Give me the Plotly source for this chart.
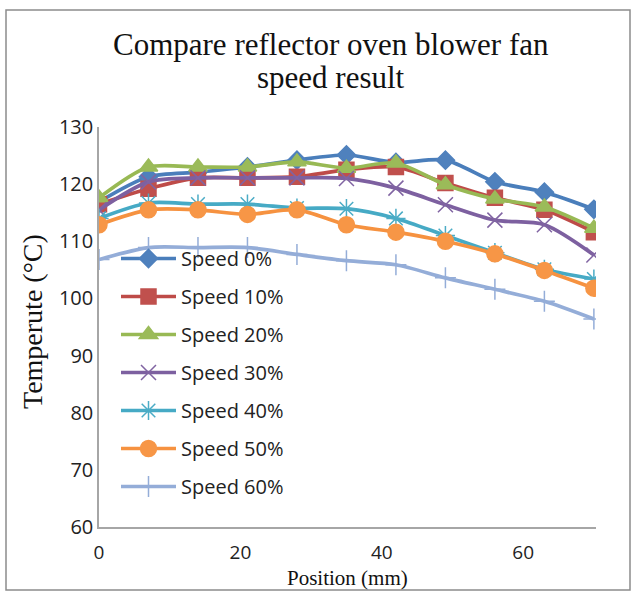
import plotly.graph_objects as go

positions = [0, 7, 14, 21, 28, 35, 42, 49, 56, 63, 70]
speed_0 = [116.9, 121.3, 122.1, 123.0, 124.2, 125.1, 123.8, 124.2, 120.4, 118.6, 115.6]
speed_10 = [116.5, 119.2, 121.1, 121.1, 121.3, 122.5, 123.0, 120.2, 117.6, 115.5, 111.6]
speed_20 = [117.6, 123.0, 123.0, 123.0, 123.9, 122.8, 123.7, 119.9, 117.4, 116.0, 112.3]
speed_30 = [115.5, 120.4, 121.1, 121.1, 121.1, 121.0, 119.3, 116.4, 113.7, 112.9, 107.6]
speed_40 = [114.0, 116.7, 116.5, 116.5, 115.8, 115.7, 114.0, 111.0, 108.0, 105.1, 103.4]
speed_50 = [112.9, 115.5, 115.5, 114.7, 115.5, 112.9, 111.6, 110.0, 107.8, 104.9, 101.8]
speed_60 = [106.8, 108.9, 108.9, 108.9, 107.7, 106.6, 105.9, 103.6, 101.6, 99.5, 96.4]

series_names = ["Speed 0%", "Speed 10%", "Speed 20%", "Speed 30%", "Speed 40%", "Speed 50%", "Speed 60%"]
series_values = [speed_0, speed_10, speed_20, speed_30, speed_40, speed_50, speed_60]
y_ticks = [60, 70, 80, 90, 100, 110, 120, 130]
x_ticks = [0, 20, 40, 60]

styles = [
    dict(line="#4A7EBB", mcol="#4F81BD", symbol="diamond", size=14),
    dict(line="#BE4B48", mcol="#C0504D", symbol="square", size=15),
    dict(line="#98B954", mcol="#9BBB59", symbol="triangle-up", size=16),
    dict(line="#7D60A0", mcol="#8064A2", symbol="x-thin-open", size=15),
    dict(line="#46AAC5", mcol="#4BACC6", symbol="asterisk-open", size=16),
    dict(line="#F69240", mcol="#F79646", symbol="circle", size=16),
    dict(line="#94ADD8", mcol="#94ADD8", symbol="cross-thin-open", size=15),
]

fig = go.Figure()
for i, (name, vals, st) in enumerate(zip(series_names, series_values, styles)):
    fig.add_trace(go.Scatter(
        x=positions, y=vals, name=name, mode="lines+markers",
        legendgroup=f"g{i}",
        line=dict(color=st["line"], width=3.7, shape="spline", smoothing=0.8),
        marker=dict(symbol=st["symbol"], size=st["size"], color=st["mcol"],
                    line=dict(color=st["mcol"], width=1.5)),
    ))

L, R, T, B = 99, 37, 127, 66
W, H = 633, 593
pw, ph = W - L - R, H - T - B

def px2x(px):
    return (px - L) / pw

def py2y(py):
    return (H - B - py) / ph

serif = "Liberation Serif, Times New Roman, serif"
sans = "Open Sans, Noto Sans, sans-serif"

fig.update_layout(
    width=W, height=H,
    margin=dict(l=L, r=R, t=T, b=B, autoexpand=False),
    paper_bgcolor="white", plot_bgcolor="white",
    showlegend=True,
    legend=dict(
        x=px2x(116), y=py2y(239), xanchor="left", yanchor="top",
        font=dict(family=sans, size=20, color="#222222"),
        bgcolor="rgba(255,255,255,0)", tracegroupgap=9, itemwidth=55,
    ),
    xaxis=dict(
        range=[0, 70.3], tickvals=x_ticks, ticktext=[str(v) for v in x_ticks],
        showgrid=False, zeroline=False, showline=True, linecolor="#A6A6A6", linewidth=1.5,
        ticks="", tickfont=dict(family=sans, size=19, color="#222222"),
        ticklabelstandoff=7, automargin=False,
    ),
    yaxis=dict(
        range=[60, 130], tickvals=y_ticks, ticktext=[str(v) for v in y_ticks],
        showgrid=False, zeroline=False, showline=True, linecolor="#A6A6A6", linewidth=1.5,
        ticks="", tickfont=dict(family=sans, size=20, color="#222222"),
        ticklabelstandoff=0, automargin=False,
    ),
    annotations=[
        dict(text="Compare reflector oven blower fan", xref="paper", yref="paper",
             x=px2x(331), y=py2y(44), showarrow=False, xanchor="center", yanchor="middle",
             font=dict(family=serif, size=31, color="#111111")),
        dict(text="speed result", xref="paper", yref="paper",
             x=px2x(331), y=py2y(77), showarrow=False, xanchor="center", yanchor="middle",
             font=dict(family=serif, size=31, color="#111111")),
        dict(text="Temperute (°C)", xref="paper", yref="paper",
             x=px2x(32), y=py2y(322), showarrow=False, textangle=-90,
             xanchor="center", yanchor="middle",
             font=dict(family=serif, size=28, color="#111111")),
        dict(text="Position (mm)", xref="paper", yref="paper",
             x=px2x(347), y=py2y(578), showarrow=False,
             xanchor="center", yanchor="middle",
             font=dict(family=serif, size=21, color="#111111")),
    ],
    shapes=[
        dict(type="rect", xref="paper", yref="paper",
             x0=px2x(6), x1=px2x(630), y0=py2y(590), y1=py2y(10),
             line=dict(color="#8C8C8C", width=1.5), fillcolor="rgba(0,0,0,0)", layer="below"),
    ],
)

fig.write_html("out.html", config={"displayModeBar": False},
               post_script="document.body.style.margin='0';")
